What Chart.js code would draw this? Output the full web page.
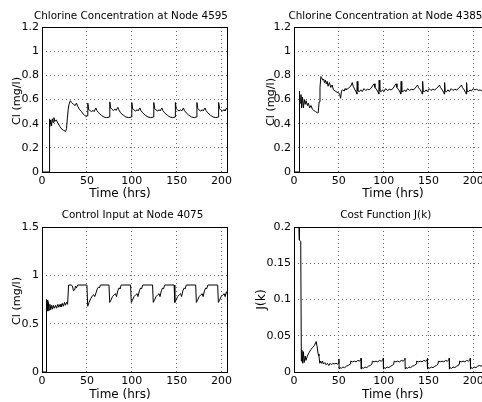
<!DOCTYPE html>
<html>
<head>
<meta charset="utf-8">
<script src="https://cdn.jsdelivr.net/npm/chart.js@4.4.0/dist/chart.umd.min.js"></script>
<style>
  body { margin: 0; background: #fff; }
  #lienzo { position: relative; width: 482px; height: 402px; overflow: hidden; }
  canvas { position: absolute; }
</style>
</head>
<body>
<div id="lienzo">
  <canvas id="g4595" width="241" height="201" style="left:0;top:0"></canvas>
  <canvas id="g4385" width="241" height="201" style="left:241px;top:0"></canvas>
  <canvas id="g4075" width="241" height="201" style="left:0;top:201px"></canvas>
  <canvas id="gJ" width="241" height="201" style="left:241px;top:201px"></canvas>
</div>
<script>
// ejes
const ticksX = [0, 50, 100, 150, 200];
const xMaxIzq = 206;
const xMaxDer = 209.7;
const ticks4595 = [0, 0.2, 0.4, 0.6, 0.8, 1, 1.2];
const ticks4385 = [0, 0.2, 0.4, 0.6, 0.8, 1, 1.2];
const ticks4075 = [0, 0.5, 1, 1.5];
const ticksJ = [0, 0.05, 0.1, 0.15, 0.2];

// Chlorine Concentration at Node 4595
const t4595 = [0,7.8,8.1,8.8,9.7,10.6,11.5,12.4,13.3,14.2,16,18,20,22,24,26.3,27.3,28.2,29.2,30.1,31.5,33,35,37,38.3,40,42,44,46,48,49.5,50.7,
  51,52,53.2,55.1,57,58,60,61,63,66,69,72,75.1,
  75.5,76.5,77.7,79.6,81.5,82.5,84.5,85.5,87.5,90.5,93.5,96.5,99.6,
  100,101,102.2,104.1,106,107,109,110,112,115,118,121,124.1,
  124.5,125.5,126.7,128.6,130.5,131.5,133.5,134.5,136.5,139.5,142.5,145.5,148.1,
  148.5,149.5,150.7,152.6,154.5,155.5,157.5,158.5,160.5,163.5,166.5,169.5,172.1,
  172.5,173.5,174.7,176.6,178.5,179.5,181.5,182.5,184.5,187.5,190.5,193.5,196.3,
  196.7,197.7,198.9,200.8,202.7,203.7,205.7,206.1];
const cl4595 = [0,0,0.44,0.37,0.43,0.38,0.44,0.41,0.45,0.42,0.43,0.40,0.375,0.355,0.345,0.335,0.36,0.44,0.52,0.56,0.59,0.575,0.56,0.55,0.57,0.54,0.515,0.50,0.48,0.465,0.46,0.465,
  0.57,0.515,0.51,0.50,0.51,0.50,0.53,0.51,0.49,0.47,0.455,0.45,0.455,
  0.58,0.53,0.52,0.51,0.52,0.51,0.535,0.515,0.49,0.47,0.455,0.45,0.455,
  0.575,0.52,0.515,0.505,0.515,0.505,0.53,0.51,0.49,0.47,0.455,0.45,0.455,
  0.575,0.525,0.515,0.505,0.515,0.505,0.53,0.51,0.49,0.47,0.455,0.45,0.455,
  0.575,0.525,0.515,0.505,0.515,0.505,0.53,0.51,0.49,0.47,0.455,0.45,0.455,
  0.575,0.525,0.515,0.505,0.515,0.505,0.53,0.51,0.49,0.47,0.455,0.45,0.455,
  0.575,0.525,0.515,0.505,0.515,0.505,0.53,0.52];

// Chlorine Concentration at Node 4385
const t4385 = [0,5.6,5.8,6.5,7,7.8,8.5,9.5,10.5,11.5,12.5,13.5,15,16,17.5,19,20.5,22,24,26,27,28,29,30,31,32,33,34,35,36,37,38,39.5,41,42.5,44,46,48,50,51,52,53,54,56,57,58,60,62,
  64,65,66,68,69.5,70.1,70.5,71.2,73,74.5,76,78,80,82,84,86,
  88.3,89.3,90.3,92.3,93.8,94.6,95,95.7,97.3,98.8,100.3,102.3,104.3,106.3,108.3,110.3,
  112.8,113.8,114.8,116.8,118.3,119.1,119.5,120.2,121.8,123.3,124.8,126.8,128.8,130.8,132.8,134.8,
  136.8,137.8,138.8,140.8,142.3,143.1,143.5,144.2,145.8,147.3,148.8,150.8,152.8,154.8,156.8,158.8,
  161.3,162.3,163.3,165.3,166.8,167.6,168,168.7,170.3,171.8,173.3,175.3,177.3,179.3,181.3,183.3,
  185.8,186.8,187.8,189.8,191.3,192.1,192.5,193.2,194.8,196.3,197.8,199.8,201.8,203.8,205.8,207.8,209,210];
const cl4385 = [0,0,0.67,0.65,0.57,0.64,0.53,0.62,0.53,0.60,0.56,0.59,0.55,0.57,0.53,0.55,0.52,0.51,0.50,0.49,0.49,0.58,0.70,0.79,0.78,0.76,0.77,0.74,0.76,0.73,0.75,0.71,0.74,0.70,0.72,0.68,0.67,0.66,0.655,0.64,0.61,0.67,0.68,0.67,0.69,0.68,0.69,0.70,
  0.72,0.74,0.71,0.68,0.66,0.645,0.75,0.67,0.665,0.68,0.665,0.69,0.675,0.685,0.68,0.695,
  0.72,0.73,0.70,0.68,0.66,0.645,0.76,0.67,0.665,0.68,0.665,0.69,0.675,0.685,0.68,0.69,
  0.72,0.73,0.70,0.68,0.66,0.645,0.75,0.665,0.665,0.68,0.665,0.69,0.675,0.685,0.68,0.69,
  0.71,0.72,0.70,0.68,0.66,0.645,0.75,0.665,0.665,0.68,0.665,0.69,0.675,0.685,0.68,0.69,
  0.71,0.72,0.70,0.68,0.66,0.645,0.74,0.665,0.665,0.68,0.665,0.69,0.675,0.685,0.68,0.69,
  0.71,0.72,0.70,0.68,0.66,0.645,0.74,0.665,0.665,0.68,0.67,0.69,0.68,0.685,0.675,0.68,0.67,0.675];

// Control Input at Node 4075
const t4075 = [0,4.5,4.7,5.3,5.9,6.5,7.2,7.9,8.8,9.8,10.8,11.8,12.8,13.8,15.2,16.2,17.7,18.7,20.2,21.1,22.6,23.6,25.1,26,27.5,28.5,29.6,32.5,33.9,35,36.4,37.4,38.3,39.8,50,
  50.9,52.4,54.3,56.3,57.7,58.7,60.2,61.6,63.1,64,65,74.6,
  75.4,76.6,78.5,80.5,81.9,82.9,84.4,85.8,86.8,88.2,98.6,
  99.4,100.6,102.5,104.5,105.9,106.9,108.4,109.8,110.8,112.2,123.1,
  123.9,125.1,127,129,130.4,131.4,132.9,134.3,135.3,136.7,147.1,
  147.9,149.1,151,153,154.4,155.4,156.9,158.3,159.3,160.7,171.1,
  171.9,173.1,175,177,178.4,179.4,180.9,182.3,183.3,184.7,195.6,
  196.4,197.6,199.5,201.5,202.9,203.9,205.4,206.8,208,209.5];
const u4075 = [0,0,0.75,0.62,0.74,0.63,0.72,0.64,0.70,0.645,0.69,0.65,0.69,0.66,0.69,0.66,0.70,0.67,0.70,0.675,0.71,0.68,0.72,0.69,0.72,0.70,0.9,0.9,0.89,0.84,0.85,0.89,0.87,0.9,0.9,
  0.68,0.72,0.76,0.79,0.80,0.78,0.82,0.86,0.88,0.87,0.9,0.9,
  0.72,0.74,0.78,0.80,0.81,0.78,0.84,0.87,0.86,0.9,0.9,
  0.72,0.74,0.78,0.80,0.81,0.78,0.84,0.87,0.86,0.9,0.9,
  0.72,0.74,0.78,0.80,0.81,0.78,0.84,0.87,0.86,0.9,0.9,
  0.72,0.74,0.78,0.80,0.81,0.78,0.84,0.87,0.86,0.9,0.9,
  0.72,0.74,0.78,0.80,0.81,0.78,0.84,0.87,0.86,0.9,0.9,
  0.72,0.74,0.78,0.80,0.81,0.78,0.83,0.80,0.79,0.81];

// Cost Function J(k)
const tJ = [5.6,6,7.5,8.2,8.9,9.7,10.5,11.3,12.4,13.4,14.9,16.9,18.9,20.9,22.9,24.7,25.8,26.9,27.8,28.8,29.8,30.8,31.8,32.8,34.3,35.8,37.3,38.8,40.3,41.8,43.3,44.8,46.8,48.8,49.8,50.1,
  50.4,51.4,52.9,54.4,56.4,58.4,60.4,62.7,63.2,65.2,67.2,69.2,71.2,73.2,74.5,74.8,
  75.1,76.1,77.6,79.1,81.1,83.1,85.1,86.9,87.4,89.4,91.4,93.4,95.4,97.4,99.2,99.5,
  99.8,100.8,102.3,103.8,105.8,107.8,109.8,111.2,111.7,113.7,115.7,117.7,119.7,121.7,123.5,123.8,
  124.1,125.1,126.6,128.1,130.1,132.1,134.1,136.3,136.8,138.8,140.8,142.8,144.8,146.8,148.5,148.8,
  149.1,150.1,151.6,153.1,155.1,157.1,159.1,160.6,161.1,163.1,165.1,167.1,169.1,171.1,172.8,173.1,
  173.4,174.4,175.9,177.4,179.4,181.4,183.4,184.1,184.6,186.6,188.6,190.6,192.6,194.6,196.3,196.6,
  196.9,197.9,199.4,200.9,202.9,204.9,206.9,208.5,210];
const jk = [0.2,0.182,0.18,0.015,0.03,0.012,0.028,0.013,0.022,0.016,0.022,0.027,0.031,0.034,0.037,0.042,0.035,0.025,0.022,0.012,0.015,0.012,0.015,0.011,0.013,0.01,0.012,0.009,0.012,0.01,0.012,0.011,0.012,0.011,0.012,0.018,
  0.004,0.006,0.005,0.007,0.006,0.008,0.009,0.011,0.015,0.014,0.015,0.014,0.016,0.015,0.017,0.019,
  0.004,0.006,0.005,0.007,0.006,0.008,0.009,0.011,0.015,0.014,0.015,0.014,0.016,0.015,0.017,0.019,
  0.004,0.006,0.005,0.007,0.006,0.008,0.009,0.011,0.015,0.014,0.015,0.014,0.016,0.015,0.017,0.019,
  0.004,0.006,0.005,0.007,0.006,0.008,0.009,0.011,0.015,0.014,0.015,0.014,0.016,0.015,0.017,0.019,
  0.004,0.006,0.005,0.007,0.006,0.008,0.009,0.011,0.015,0.014,0.015,0.014,0.016,0.015,0.017,0.019,
  0.004,0.006,0.005,0.007,0.006,0.008,0.009,0.011,0.015,0.014,0.015,0.014,0.016,0.015,0.017,0.019,
  0.004,0.006,0.005,0.007,0.006,0.008,0.009,0.008,0.009];

const FUENTE = "'DejaVu Sans', 'Liberation Sans', Arial, sans-serif";
Chart.defaults.font.family = FUENTE;
Chart.defaults.color = '#000';

// caja negra alrededor del area de la grafica (estilo matlab)
const marco = {
  id: 'marco',
  afterDraw(chart) {
    const a = chart.chartArea;
    const ctx = chart.ctx;
    ctx.save();
    ctx.strokeStyle = '#000';
    ctx.lineWidth = 1;
    ctx.strokeRect(Math.round(a.left) + 0.5, Math.round(a.top) + 0.5,
      Math.round(a.right - a.left), Math.round(a.bottom - a.top));
    ctx.restore();
  }
};

// titulo y nombres de ejes
const rotulos = {
  id: 'rotulos',
  afterDraw(chart, args, o) {
    const ctx = chart.ctx;
    ctx.save();
    ctx.fillStyle = '#000';
    ctx.textAlign = 'center';
    ctx.textBaseline = 'alphabetic';
    ctx.font = o.tamTitulo + 'px ' + FUENTE;
    ctx.fillText(o.titulo, o.tituloX, o.tituloY);
    ctx.font = o.tamX + 'px ' + FUENTE;
    ctx.fillText(o.etiquetaX, o.xX, o.xY);
    ctx.font = o.tamY + 'px ' + FUENTE;
    ctx.translate(o.yX, o.yY);
    ctx.rotate(-Math.PI / 2);
    ctx.fillText(o.etiquetaY, 0, 0);
    ctx.restore();
  }
};

function graficar(id, titulo, tiempos, valores, ticksY, etiquetaY, xMax, m) {
  const ctx = document.getElementById(id);
  const rejilla = { color: '#666', lineWidth: 1, drawTicks: false, borderDash: [1, 3] };
  const borde = { display: false, dash: [1, 3] };

  new Chart(ctx, {
    type: 'line',
    data: {
      datasets: [{
        data: tiempos.map(function(t, i) { return { x: t, y: valores[i] }; }),
        borderColor: '#000',
        borderWidth: 1,
        pointRadius: 0,
        tension: 0,
        fill: false
      }]
    },
    options: {
      responsive: false,
      animation: false,
      layout: { autoPadding: false, padding: { left: 0, top: m.arriba, right: m.derecha, bottom: 0 } },
      plugins: {
        legend: { display: false },
        tooltip: { enabled: false },
        title: { display: false },
        rotulos: {
          titulo: titulo, tamTitulo: 10.4, tituloX: m.tituloX, tituloY: m.tituloY,
          etiquetaX: 'Time (hrs)', tamX: 12, xX: m.xX, xY: 197,
          etiquetaY: etiquetaY, tamY: m.tamY, yX: m.yX, yY: m.yY
        }
      },
      scales: {
        x: {
          type: 'linear',
          min: 0,
          max: xMax,
          afterBuildTicks: function(s) { s.ticks = ticksX.map(function(v) { return { value: v }; }); },
          afterFit: function(s) { s.height = m.alto; s.paddingLeft = 0; s.paddingRight = 0; },
          grid: rejilla,
          border: borde,
          ticks: { color: '#000', padding: 3, autoSkip: false, maxRotation: 0, font: { size: 11 } },
          title: { display: false }
        },
        y: {
          type: 'linear',
          min: ticksY[0],
          max: ticksY[ticksY.length - 1],
          afterBuildTicks: function(s) { s.ticks = ticksY.map(function(v) { return { value: v }; }); },
          afterFit: function(s) { s.width = m.ancho; s.paddingTop = 0; s.paddingBottom = 0; },
          grid: rejilla,
          border: borde,
          ticks: { color: '#000', padding: 3, autoSkip: false, font: { size: 11 },
            callback: function(v) { return String(v); } },
          title: { display: false }
        }
      }
    },
    plugins: [marco, rotulos]
  });
}

graficar('g4595', 'Chlorine Concentration at Node 4595', t4595, cl4595, ticks4595, 'Cl (mg/l)', xMaxIzq,
  { ancho: 42, alto: 29, derecha: 14, arriba: 27, tituloX: 131, tituloY: 19, xX: 120, yX: 19.5, yY: 101, tamY: 11.2 });
graficar('g4385', 'Chlorine Concentration at Node 4385', t4385, cl4385, ticks4385, 'Cl (mg/l)', xMaxDer,
  { ancho: 53, alto: 29, derecha: 0, arriba: 27, tituloX: 144.5, tituloY: 19, xX: 152, yX: 32.5, yY: 102, tamY: 11.2 });
graficar('g4075', 'Control Input at Node 4075', t4075, u4075, ticks4075, 'Cl (mg/l)', xMaxIzq,
  { ancho: 42, alto: 30, derecha: 14, arriba: 26, tituloX: 132.5, tituloY: 17, xX: 120, yX: 19.5, yY: 100, tamY: 11.2 });
graficar('gJ', 'Cost Function J(k)', tJ, jk, ticksJ, 'J(k)', xMaxDer,
  { ancho: 53, alto: 30, derecha: 0, arriba: 26, tituloX: 144.7, tituloY: 17.3, xX: 151.7, yX: 23.5, yY: 98.5, tamY: 12.5 });
</script>
</body>
</html>
